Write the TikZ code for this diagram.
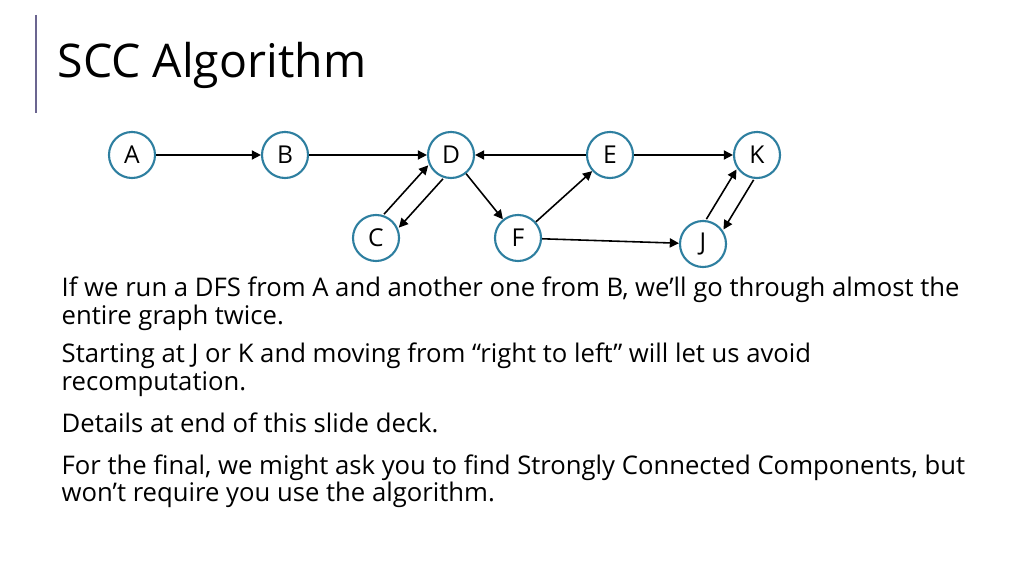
\documentclass[tikz,border=0pt]{standalone}
\usepackage{fontspec}
\setmainfont{Open Sans}
\usetikzlibrary{arrows.meta,calc}
\definecolor{ring}{HTML}{2E7FA0}
\definecolor{barc}{HTML}{6B6590}
\begin{document}
\begin{tikzpicture}[x=0.01cm,y=-0.01cm,
  vtx/.style={circle,draw=ring,line width=0.6pt,minimum size=0.46cm,inner sep=0pt,font=\fontsize{7}{8}\selectfont},
  edge/.style={-{Triangle[length=2.6pt,width=2.6pt]},line width=0.45pt},
  par/.style={edge,shorten <=0.23cm,shorten >=0.23cm},
  body/.style={anchor=base west,inner sep=0pt,font=\fontsize{7.3}{8}\selectfont}]
\useasboundingbox (0,0) rectangle (1024,576);
\fill[white] (0,0) rectangle (1024,576);
\draw[barc,line width=0.5pt] (36,15) coordinate (b1) -- (36,113) coordinate (b2);
\node[anchor=base west,inner sep=0pt,font=\fontsize{13.2}{15}\selectfont] (title) at (57,78) {SCC Algorithm};
\node[vtx] (A) at (132,155) {A};
\node[vtx] (B) at (285,155) {B};
\node[vtx] (D) at (451,155) {D};
\node[vtx] (E) at (610,155) {E};
\node[vtx] (K) at (757,155) {K};
\node[vtx] (C) at (376,238) {C};
\node[vtx] (F) at (518,238) {F};
\node[vtx] (J) at (703,244) {J};
\draw[edge] (A) -- (B);
\draw[edge] (B) -- (D);
\draw[edge] (E) -- (D);
\draw[edge] (E) -- (K);
\draw[edge] (D) -- (F);
\draw[edge] (F) -- (E);
\draw[edge] (F) -- (J);
\draw[par] ($(C)!0.1cm!90:(D)$) -- ($(D)!0.1cm!-90:(C)$);
\draw[par] ($(D)!0.1cm!90:(C)$) -- ($(C)!0.1cm!-90:(D)$);
\draw[par] ($(J)!0.1cm!90:(K)$) -- ($(K)!0.1cm!-90:(J)$);
\draw[par] ($(K)!0.1cm!90:(J)$) -- ($(J)!0.1cm!-90:(K)$);
\node[body] (t1) at (61,297) {If we run a DFS from A and another one from B, we’ll go through almost the};
\node[body] (t2) at (61,324) {entire graph twice.};
\node[body] (t3) at (61,363) {Starting at J or K and moving from “right to left” will let us avoid};
\node[body] (t4) at (61,390) {recomputation.};
\node[body] (t5) at (61,432) {Details at end of this slide deck.};
\node[body] (t6) at (61,474) {For the final, we might ask you to find Strongly Connected Components, but};
\node[body] (t7) at (61,501) {won’t require you use the algorithm.};
\end{tikzpicture}
\end{document}
